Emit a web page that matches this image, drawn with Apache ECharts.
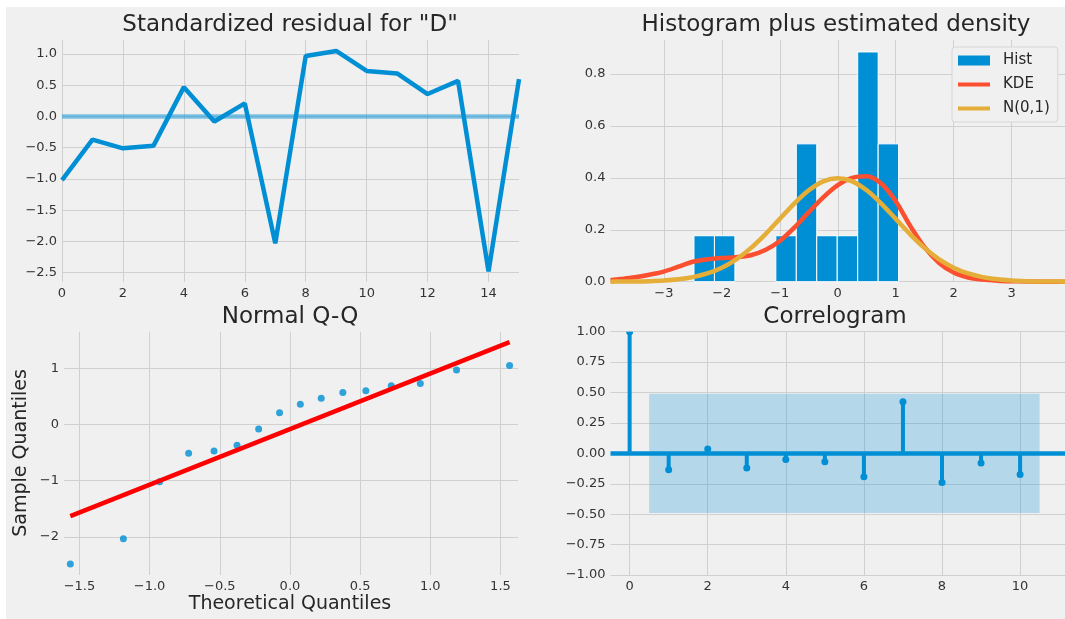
<!DOCTYPE html>
<html><head><meta charset="utf-8">
<script src="https://cdn.jsdelivr.net/npm/echarts@6/dist/echarts.min.js"></script>
<style>html,body{margin:0;padding:0;background:#ffffff;}#c{width:1065px;height:619px;}</style>
</head><body><div id="c"></div>
<script>
// ---- data ----
const panelTitles = ['Standardized residual for "D"', 'Histogram plus estimated density', 'Normal Q-Q', 'Correlogram'];
const residX = [0,1,2,3,4,5,6,7,8,9,10,11,12,13,14,15];
const residY = [-1.02,-0.37,-0.51,-0.47,0.47,-0.08,0.21,-2.03,0.97,1.05,0.73,0.69,0.36,0.57,-2.48,0.60];

const histEdges = [-2.48,-2.127,-1.774,-1.421,-1.068,-0.715,-0.362,-0.009,0.344,0.697,1.05];
const histDensity = [0.177,0.177,0,0,0.177,0.531,0.177,0.177,0.885,0.531];

const densX = [-3.92,-3.75,-3.5,-3.25,-3,-2.75,-2.5,-2.25,-2,-1.75,-1.5,-1.25,-1,-0.75,-0.5,-0.25,0,0.25,0.5,0.75,1,1.25,1.5,1.75,2,2.25,2.5,2.75,3,3.25,3.5,3.75,3.92];
const kdeY = [0.006,0.010,0.017,0.027,0.039,0.058,0.077,0.086,0.091,0.094,0.102,0.122,0.157,0.208,0.268,0.325,0.372,0.400,0.406,0.378,0.310,0.215,0.132,0.072,0.035,0.016,0.008,0.004,0.002,0.001,0.0,0.0,0.0];
const normY = [0.0002,0.0004,0.0009,0.002,0.0044,0.0091,0.0175,0.0317,0.054,0.0863,0.1295,0.1826,0.242,0.3011,0.3521,0.3867,0.3989,0.3867,0.3521,0.3011,0.242,0.1826,0.1295,0.0863,0.054,0.0317,0.0175,0.0091,0.0044,0.002,0.0009,0.0004,0.0002];

const qqTheo = [-1.565,-1.187,-0.929,-0.722,-0.541,-0.377,-0.223,-0.074,0.074,0.223,0.377,0.541,0.722,0.929,1.187,1.565];
const qqSample = residY.slice().sort((a,b)=>a-b);
const qqLineX = [-1.565,1.565];
const qqLineY = [-1.63,1.465];

const acfLags = [0,1,2,3,4,5,6,7,8,9,10];
const acfVals = [1.0,-0.135,0.036,-0.121,-0.05,-0.069,-0.193,0.424,-0.24,-0.08,-0.174];
const confLagRange = [0.5,10.5];
const confBounds = [-0.49,0.49];

const residXTicks = [0,2,4,6,8,10,12,14];
const residYTicks = [-2.5,-2,-1.5,-1,-0.5,0,0.5,1];
const histXTicks = [-3,-2,-1,0,1,2,3];
const histYTicks = [0,0.2,0.4,0.6,0.8];
const qqXTicks = [-1.5,-1,-0.5,0,0.5,1,1.5];
const qqYTicks = [-2,-1,0,1];
const acfXTicks = [0,2,4,6,8,10];
const acfYTicks = [-1,-0.75,-0.5,-0.25,0,0.25,0.5,0.75,1];

// ---- chart ----
const FONT = '"DejaVu Sans"';
const BLUE = '#008fd5';
function fmt(v, d){ const s = Math.abs(v).toFixed(d); return (v < -1e-9 ? '\u2212' : '') + s; }
function axis(gi, min, max, ticks, dec){
  return {
    type:'value', gridIndex:gi, min:min, max:max,
    axisLine:{show:false}, axisTick:{show:false, customValues:ticks},
    axisLabel:{customValues:ticks, formatter:v=>fmt(v,dec), color:'#333333', fontSize:13, fontFamily:FONT, margin:5},
    splitLine:{show:true, lineStyle:{color:'#d0d0d0', width:1}}
  };
}
const chart = echarts.init(document.getElementById('c'), null, {renderer:'canvas'});
const titlePos = [[290,25],[836,25],[290,317],[835,317]];
const option = {
  animation:false,
  backgroundColor:'#ffffff',
  textStyle:{fontFamily:FONT},
  graphic:[
    {type:'rect', z:-100, shape:{x:6,y:7,width:1059,height:612}, style:{fill:'#f0f0f0'}, silent:true},
    {type:'text', x:290, y:604, style:{text:'Theoretical Quantiles', font:'19px "DejaVu Sans"', fill:'#262626', align:'center', verticalAlign:'middle'}},
    {type:'text', x:21, y:453, rotation:Math.PI/2, style:{text:'Sample Quantiles', font:'19px "DejaVu Sans"', fill:'#262626', align:'center', verticalAlign:'middle'}}
  ],
  title: panelTitles.map((t,i)=>({text:t, left:titlePos[i][0], top:titlePos[i][1], textAlign:'center', textVerticalAlign:'middle', padding:0,
    textStyle:{fontSize:23, fontWeight:'normal', color:'#262626', fontFamily:FONT}})),
  grid:[
    {left:62, top:40, width:457, height:242},
    {left:610.5, top:40, width:456.5, height:241.7},
    {left:64, top:331.7, width:454, height:243.3},
    {left:610.5, top:331.7, width:456.5, height:243.3}
  ],
  xAxis:[
    axis(0, 0, 15, residXTicks, 0),
    axis(1, -3.92, 3.92, histXTicks, 0),
    axis(2, -1.61, 1.625, qqXTicks, 1),
    axis(3, -0.49, 11.15, acfXTicks, 0)
  ],
  yAxis:[
    axis(0, -2.65, 1.225, residYTicks, 1),
    axis(1, 0, 0.931, histYTicks, 1),
    axis(2, -2.677, 1.652, qqYTicks, 0),
    axis(3, -1, 1, acfYTicks, 2)
  ],
  legend:{
    orient:'vertical', left:952, top:47, padding:[6,8,6,6], itemGap:9, itemWidth:32, itemHeight:10,
    backgroundColor:'#f0f0f0', borderColor:'#d6d6d6', borderWidth:1, borderRadius:3, selectedMode:false,
    itemStyle:{borderWidth:0},
    textStyle:{fontSize:15, color:'#262626', fontFamily:FONT, padding:[0,0,0,8]},
    data:[{name:'Hist', icon:'rect'},{name:'KDE', icon:'path://M0,0H32V4H0Z'},{name:'N(0,1)', icon:'path://M0,0H32V4H0Z'}]
  },
  series:[
    {type:'line', xAxisIndex:0, yAxisIndex:0, data:residX.map((x,i)=>[x,residY[i]]), showSymbol:false, symbol:'none',
      lineStyle:{color:BLUE, width:4.5}, itemStyle:{color:BLUE}, z:3,
      markLine:{silent:true, symbol:'none', label:{show:false}, lineStyle:{color:'rgba(0,143,213,0.5)', width:4.5, type:'solid'}, data:[{yAxis:0}]}},
    {type:'custom', name:'Hist', xAxisIndex:1, yAxisIndex:1, itemStyle:{color:BLUE},
      data:histDensity.map((d,i)=>[histEdges[i], histEdges[i+1], d]),
      encode:{x:[0,1], y:2},
      renderItem:function(params, api){
        if (api.value(2) <= 0) return null;
        const p0 = api.coord([api.value(0), 0]);
        const p1 = api.coord([api.value(1), api.value(2)]);
        return {type:'rect', shape:{x:p0[0], y:p1[1], width:p1[0]-p0[0], height:p0[1]-p1[1]}, style:{fill:BLUE, stroke:'#ffffff', lineWidth:1}};
      }},
    {type:'line', name:'KDE', xAxisIndex:1, yAxisIndex:1, data:densX.map((x,i)=>[x,kdeY[i]]), showSymbol:false, symbol:'none', smooth:0.3,
      lineStyle:{color:'#fc4f30', width:4.5}, itemStyle:{color:'#fc4f30'}, z:4},
    {type:'line', name:'N(0,1)', xAxisIndex:1, yAxisIndex:1, data:densX.map((x,i)=>[x,normY[i]]), showSymbol:false, symbol:'none', smooth:0.3,
      lineStyle:{color:'#e5ae38', width:4.5}, itemStyle:{color:'#e5ae38'}, z:5},
    {type:'scatter', xAxisIndex:2, yAxisIndex:2, data:qqTheo.map((x,i)=>[x,qqSample[i]]), symbolSize:7, itemStyle:{color:BLUE}, z:3},
    {type:'line', xAxisIndex:2, yAxisIndex:2, data:qqLineX.map((x,i)=>[x,qqLineY[i]]), showSymbol:false, symbol:'none',
      lineStyle:{color:'#ff0000', width:4.5}, z:4},
    {type:'custom', xAxisIndex:3, yAxisIndex:3, data:acfLags.map((x,i)=>[x,acfVals[i]]), z:4, clip:true,
      renderItem:function(params, api){
        const a = api.coord([api.value(0), 0]);
        const b = api.coord([api.value(0), api.value(1)]);
        return {type:'group', children:[
          {type:'line', shape:{x1:a[0], y1:a[1], x2:b[0], y2:b[1]}, style:{stroke:BLUE, lineWidth:4}},
          {type:'circle', shape:{cx:b[0], cy:b[1], r:3.5}, style:{fill:BLUE}}
        ]};
      },
      markArea:{silent:true, itemStyle:{color:'rgba(0,143,213,0.25)'}, data:[[{xAxis:confLagRange[0], yAxis:confBounds[0]},{xAxis:confLagRange[1], yAxis:confBounds[1]}]]},
      markLine:{silent:true, symbol:'none', label:{show:false}, lineStyle:{color:BLUE, width:4.5, type:'solid'}, data:[{yAxis:0}]}}
  ]
};
chart.setOption(option);
</script></body></html>
